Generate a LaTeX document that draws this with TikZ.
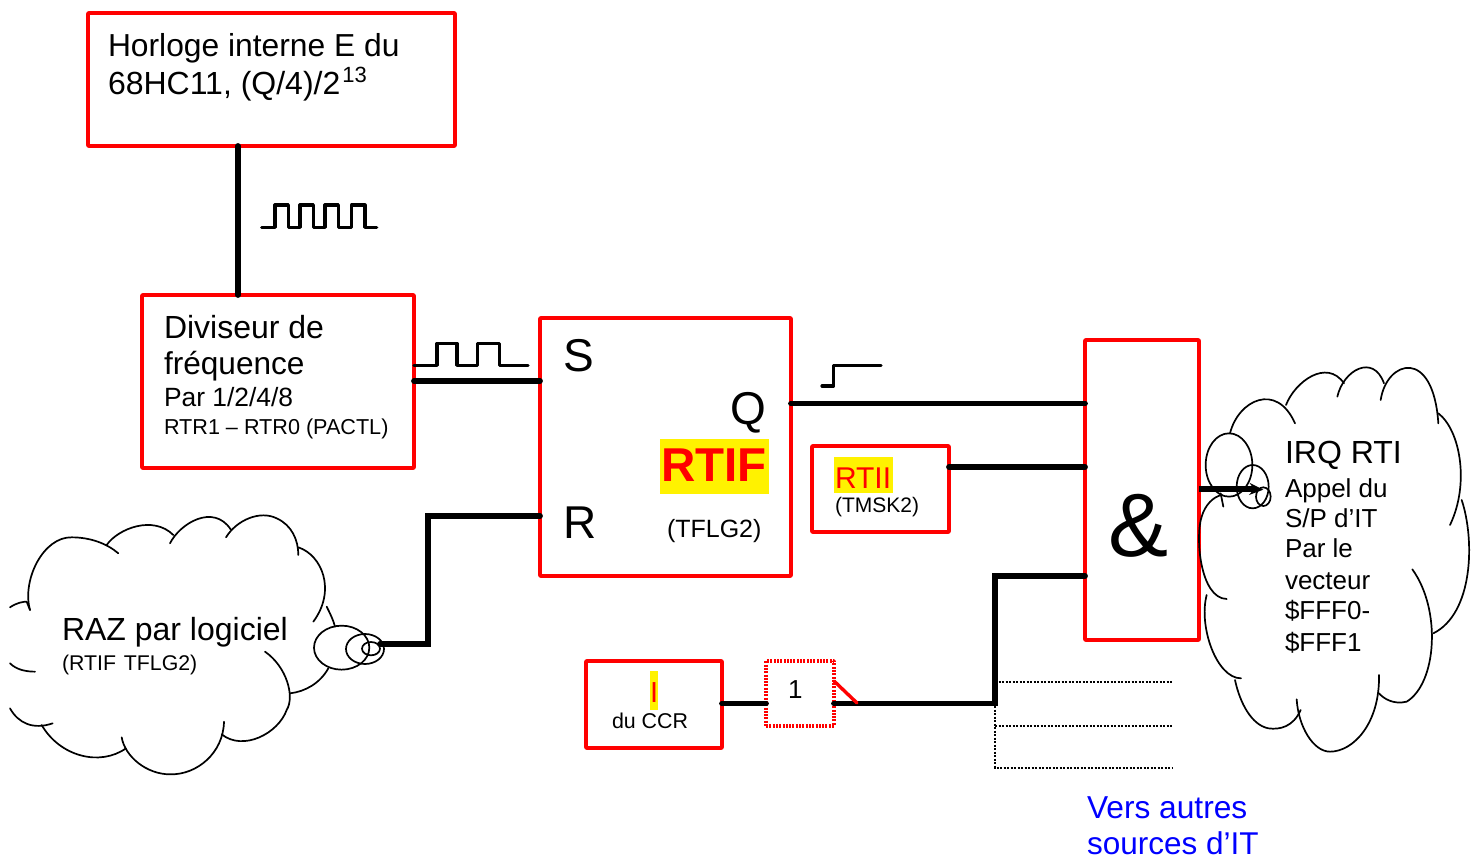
\documentclass[tikz,border=0pt]{standalone}
\usepackage{fontspec}
\setmainfont{Liberation Sans}
\usetikzlibrary{arrows.meta}
\newcommand{\fsz}[1]{\fontsize{#1}{#1}\selectfont}
\tikzset{
  box/.style={draw=red,line width=3.6pt,line join=round,rounded corners=0.5pt,minimum width=#1,inner sep=0pt,outer sep=0pt,anchor=north west},
  lbl/.style={anchor=base west,inner sep=0pt,outer sep=0pt,text=black},
  wire/.style={draw=black,line width=5.8pt,line cap=round,line join=miter},
  wave/.style={draw=black,line width=3.2pt,line cap=round,line join=round},
  thinwire/.style={draw=black,line width=2pt,dash pattern=on 2.4pt off 1.1pt},
  cloudline/.style={draw=black,line width=1.7pt,line cap=round},
}
\begin{document}
\begin{tikzpicture}[x=1pt,y=-1pt]
\useasboundingbox (0,0) rectangle (1476,858);
% highlights
\fill[yellow] (660,439) rectangle (769,494);
\fill[yellow] (834,457) rectangle (893,493);
\fill[yellow] (650,671) rectangle (658,710);
% boxes
\node[box=367pt,minimum height=133pt] (horloge) at (88,13) {};
\node[box=272pt,minimum height=173pt] (div) at (142,295) {};
\node[box=251pt,minimum height=258pt] (sr) at (540,318) {};
\node[box=114pt,minimum height=300pt] (et) at (1085,340) {};
\node[box=137pt,minimum height=86pt] (rtii) at (812,446) {};
\node[box=136pt,minimum height=87pt] (ibox) at (586,661) {};
\node[box=68pt,minimum height=65pt,dash pattern=on 2pt off 1.3pt,line width=3.4pt,rounded corners=0pt] (orbox) at (766,661) {};
% left cloud (zoom coordinates)
\begin{scope}[shift={(0,500)},x=0.33333pt,y=-0.33333pt,every path/.append style={cloudline}]
\draw (30,322) .. controls (50,308) and (70,305) .. (80,305) -- (90,330);
\draw (90,330) .. controls (65,240) and (130,110) .. (215,112) .. controls (270,112) and (320,130) .. (355,160);
\draw (320,135) .. controls (355,85) and (460,45) .. (520,105);
\draw (510,130) .. controls (540,70) and (640,10) .. (692,88);
\draw (678,112) .. controls (710,60) and (780,30) .. (830,55) .. controls (875,75) and (895,120) .. (895,165);
\draw (895,142) .. controls (965,165) and (1010,270) .. (940,365);
\draw (980,320) .. controls (990,340) and (1000,360) .. (1005,380);
\draw (985,505) .. controls (960,550) and (915,575) .. (870,580);
\draw (795,455) .. controls (860,500) and (885,590) .. (860,630) .. controls (835,700) and (730,755) .. (665,703);
\draw (672,665) .. controls (670,760) and (590,825) .. (510,823) .. controls (440,823) and (375,770) .. (365,712);
\draw (378,745) .. controls (300,800) and (180,770) .. (125,675);
\draw (158,670) .. controls (100,690) and (55,670) .. (30,625);
\draw (30,490) .. controls (50,510) and (80,515) .. (105,515);
\draw (1025,443) ellipse [x radius=83,y radius=66];
\draw (1095,447) ellipse [x radius=57,y radius=45];
\draw (1113,446) ellipse [x radius=27,y radius=20];
\coordinate (razout) at (1140,432);
\end{scope}
% right cloud (zoom coordinates)
\begin{scope}[shift={(1180,350)},x=0.33333pt,y=-0.33333pt,every path/.append style={cloudline}]
\draw (150,250) .. controls (175,150) and (290,95) .. (345,220);
\draw (318,165) .. controls (345,95) and (440,25) .. (492,100);
\draw (472,140) .. controls (490,60) and (580,10) .. (612,100);
\draw (602,150) .. controls (620,30) and (760,-10) .. (775,220);
\draw (775,190) .. controls (840,240) and (870,400) .. (810,525);
\draw (845,450) .. controls (885,570) and (880,790) .. (760,850);
\draw (697,658) .. controls (785,780) and (770,1000) .. (680,1055) .. controls (640,1065) and (610,1045) .. (597,1030);
\draw (597,975) .. controls (600,1120) and (520,1205) .. (450,1205) .. controls (400,1205) and (355,1130) .. (350,1048);
\draw (362,1080) .. controls (340,1130) and (300,1140) .. (265,1135) .. controls (215,1125) and (180,1060) .. (165,990);
\draw (183,985) .. controls (110,985) and (55,830) .. (80,735);
\draw (140,747) .. controls (60,745) and (45,560) .. (65,500) .. controls (75,465) and (100,440) .. (125,435);
\draw (130,470) .. controls (127,455) and (125,445) .. (122,430);
\draw (147,345) ellipse [x radius=70,y radius=95];
\draw (218,410) ellipse [x radius=48,y radius=65];
\draw (250,440) ellipse [x radius=22,y radius=28];
\coordinate (irqin) at (250,419);
\end{scope}
% wires
\draw[wire] (horloge.south -| 238,0) -- (div.north -| 238,0);
\draw[wire] (div.east |- 0,381) -- (sr.west |- 0,381);
\draw[wire] (sr.east |- 0,403.5) -- (et.west |- 0,403.5);
\draw[wire] (rtii.east |- 0,467) -- (et.west |- 0,467);
\draw[wire] (razout |- 0,644) -- (428,644) -- (428,516) -- (sr.west |- 0,516);
\draw[wire] (ibox.east |- 0,703.5) -- (orbox.west |- 0,703.5);
\draw[wire] (orbox.east |- 0,703.5) -- (995,703.5) -- (995,576) -- (et.west |- 0,576);
\draw[draw=red,line width=3.4pt,line cap=round] (orbox.east |- 0,681) -- (857,703);
\draw[thinwire] (995,682) -- (1173,682);
\draw[thinwire] (995,725.5) -- (1173,725.5);
\draw[thinwire] (995,706) -- (995,767.5) -- (1173,767.5);
\draw[draw=black,line width=5.8pt] (et.east |- 0,489) -- (1254,489);
\draw[draw=black,line width=1.5pt,-{Stealth[length=14pt,width=12pt]}] (1250,489) -- (irqin);
% waves
\draw[wave] (261.7,227.3) -- (275,227.3) -- (275,205) -- (288.3,205) -- (288.3,227.3) -- (300,227.3) -- (300,205) -- (313.3,205) -- (313.3,227.3) -- (325,227.3) -- (325,205) -- (338.3,205) -- (338.3,227.3) -- (351.7,227.3) -- (351.7,205) -- (365,205) -- (365,227.3) -- (376.7,227.3);
\draw[wave] (414,365.3) -- (437,365.3) -- (437,343.3) -- (457,343.3) -- (457,365.3) -- (477.7,365.3) -- (477.7,343.3) -- (499.3,343.3) -- (499.3,365.3) -- (520,365.3) -- (528,365.3);
\draw[wave] (822,386) -- (833.7,386) -- (833.7,365.3) -- (881,365.3);
% text
\node[lbl] (t1) at (108,57) {\fsz{31.8}Horloge interne E du};
\node[lbl] (t2) at (108,95) {\fsz{32}68HC11, (Q/4)/2\hspace{2pt}\raisebox{12pt}{\fsz{22}13}};
\node[lbl] (t3) at (164,339) {\fsz{32}Diviseur de};
\node[lbl] (t4) at (164,375) {\fsz{31.6}fréquence};
\node[lbl] (t5) at (164,407) {\fsz{26.4}Par 1/2/4/8};
\node[lbl] (t6) at (164,435) {\fsz{21.6}RTR1 – RTR0 (PACTL)};
\node[lbl] (t7) at (62,640) {\fsz{32}RAZ par logiciel};
\node[lbl] (t8) at (62,670) {\fsz{21.3}(RTIF\hspace{2pt} TFLG2)};
\node[lbl] (t9) at (563,372) {\fsz{46}S};
\node[lbl] (t10) at (563,538) {\fsz{46}R};
\node[lbl] (t11) at (730,425) {\fsz{46}Q};
\node[lbl,text=red] (t12) at (661,482) {\fsz{47.5}\bfseries RTIF};
\node[lbl] (t13) at (667,537) {\fsz{25}(TFLG2)};
\node[lbl,text=red] (t14) at (835,489) {\fsz{30}RTII};
\node[lbl] (t15) at (835,512) {\fsz{21}(TMSK2)};
\node[lbl,text=red] (t16) at (650,702) {\fsz{29}I};
\node[lbl] (t17) at (612,728) {\fsz{21.4}du CCR};
\node[lbl] (t18) at (788,698) {\fsz{26}1};
\node[lbl] (t19) at (1108,556) {\fsz{90}\&};
\node[lbl] (t20) at (1285,464) {\fsz{32}IRQ RTI};
\node[lbl] (t21) at (1285,497) {\fsz{26}Appel du};
\node[lbl] (t22) at (1285,527) {\fsz{26}S/P d’IT};
\node[lbl] (t23) at (1285,557) {\fsz{26}Par le};
\node[lbl] (t24) at (1285,589) {\fsz{26}vecteur};
\node[lbl] (t25) at (1285,619) {\fsz{26}\$FFF0-};
\node[lbl] (t26) at (1285,651) {\fsz{26}\$FFF1};
\node[lbl,text=blue] (t27) at (1087,818) {\fsz{31.7}Vers autres};
\node[lbl,text=blue] (t28) at (1087,854) {\fsz{31.5}sources d’IT};
\end{tikzpicture}
\end{document}
